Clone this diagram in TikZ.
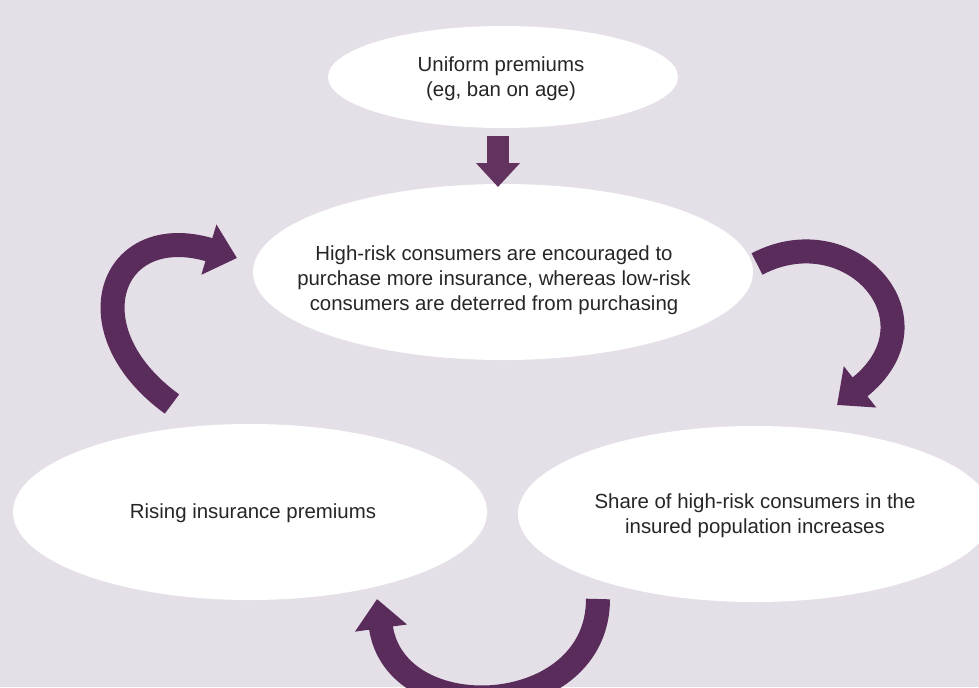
\documentclass[tikz,border=0pt]{standalone}
\usepackage{fontspec}
\setmainfont{Liberation Sans}
\usetikzlibrary{arrows.meta,shapes.geometric}
\definecolor{bgc}{HTML}{E5E0E8}
\definecolor{arrc}{HTML}{5A2C5B}
\definecolor{toparr}{HTML}{63335F}
\begin{document}
\begin{tikzpicture}[x=0.75pt,y=-0.75pt,
  oval/.style={ellipse,fill=white,draw=none,inner sep=0pt},
  txt/.style={align=center,inner sep=0pt,
    font=\fontsize{15.3}{18.75}\selectfont,text=black!85},
  bigarrow/.style={draw=arrc,line width=18pt,
    -{Triangle[width=38pt,length=22pt]}},
]
\useasboundingbox (0,0) rectangle (979,687);
\fill[bgc] (0,0) rectangle (979,687);
\clip (0,0) rectangle (979,687);

\node[oval,minimum width=262.5pt,minimum height=76.5pt] (top) at (503,77) {};
\node[txt] (toptxt) at (501,79) {Uniform premiums\\(eg, ban on age)};
\node[oval,minimum width=375pt,minimum height=132pt] (mid) at (503,272) {};
\node[txt] (midtxt) at (494,280) {High-risk consumers are encouraged to\\purchase more insurance, whereas low-risk\\consumers are deterred from purchasing};
\node[oval,minimum width=355.5pt,minimum height=132pt] (left) at (250,512) {};
\node[txt] (lefttxt) at (253,513) {Rising insurance premiums};
\node[oval,minimum width=355.5pt,minimum height=132pt] (right) at (755,514) {};
\node[txt] (righttxt) at (755,516) {Share of high-risk consumers in the\\insured population increases};

% straight arrow from top to middle
\coordinate (dA) at (498,136);
\coordinate (dB) at (498,187);
\draw[draw=toparr,line width=16.5pt,-{Triangle[width=32pt,length=18pt]}] (dA) -- (dB);

% left curved arrow
\coordinate (lA) at (172,404);
\coordinate (lB) at (237,258);
\draw[bigarrow] (lA) .. controls (70,330) and (110,220) .. (lB);

% right curved arrow
\coordinate (rA) at (757,264);
\coordinate (rB) at (837,405);
\draw[bigarrow] (rA) .. controls (850,215) and (945,320) .. (rB);

% bottom curved arrow
\coordinate (bA) at (598,599);
\coordinate (bB) at (377,599);
\draw[bigarrow] (bA) .. controls (598,720) and (395,730) .. (bB);
\end{tikzpicture}
\end{document}
